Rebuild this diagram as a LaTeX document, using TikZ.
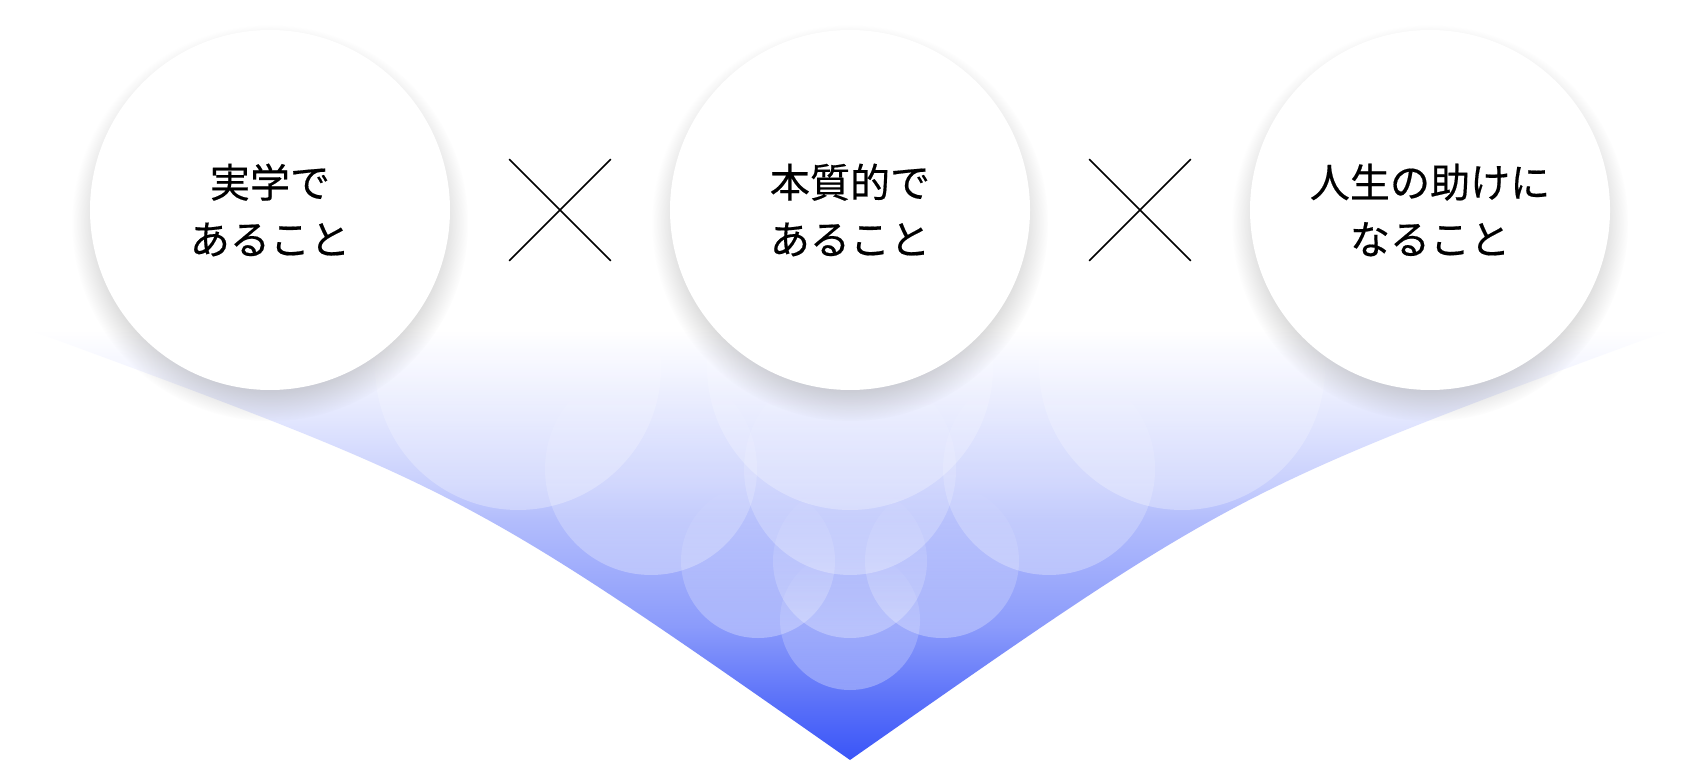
\documentclass[tikz,border=0pt]{standalone}
\usepackage{fontspec}
\newfontfamily\cjk[FakeBold=0.4]{Noto Sans CJK JP}
\usetikzlibrary{shadows,fadings,shapes.misc}
\definecolor{funnelblue}{HTML}{3A55F8}
\colorlet{funnelA}{funnelblue!84!white}
\colorlet{funnelB}{funnelblue!59!white}
\colorlet{funnelC}{funnelblue!39!white}
\colorlet{funnelD}{funnelblue!28!white}
\colorlet{funnelE}{funnelblue!15!white}
\colorlet{funnelF}{funnelblue!6!white}
\pgfdeclareverticalshading{funnelshade}{100bp}{color(0bp)=(funnelblue); color(25bp)=(funnelblue); color(31.6bp)=(funnelA); color(40.5bp)=(funnelB); color(52.9bp)=(funnelC); color(57.2bp)=(funnelD); color(64.5bp)=(funnelE); color(70.3bp)=(funnelF); color(75bp)=(white); color(100bp)=(white)}
\tikzfading[name=bubblefade, top color=transparent!100, bottom color=transparent!0]
\newcommand{\funnel}{(30,330) .. controls (466,491) .. (850,760) .. controls (1234,491) .. (1670,330) -- cycle}

\begin{document}
\begin{tikzpicture}[x=0.1mm,y=-0.1mm,
  circ/.style={circle,fill=white,minimum size=36mm,inner sep=0pt,align=center,
    font=\cjk\fontsize{11.4pt}{16.2pt}\selectfont,
    circular drop shadow={shadow scale=1.1,shadow xshift=0mm,shadow yshift=-1.2mm,opacity=0.4,fill=black!50,
      path fading={circle with fuzzy edge 20 percent}}},
  bubble/.style={fill=white,fill opacity=0.3,path fading=bubblefade},
  times/.style={draw,cross out,minimum size=10mm,inner sep=0pt,line width=0.45pt}]
\fill[white] (0,0) rectangle (1700,762);
\useasboundingbox (0,0) rectangle (1700,762);
%funnel
\shade[shading=funnelshade] \funnel;
\begin{scope}
\clip \funnel;
\foreach \x/\y/\r in {518/367/143, 850/367/143, 1182/367/143,
                      651/469/106, 850/469/106, 1049/469/106,
                      758/561/77, 850/561/77, 942/561/77, 850/620/70}
  \fill[bubble] (\x,\y) circle (\r);
\end{scope}
%circles
\node[circ] (jitsugaku) at (270,210) {実学で\\あること};
\node[times] (x1) at (560,210) {};
\node[circ] (honshitsu) at (850,210) {本質的で\\あること};
\node[times] (x2) at (1140,210) {};
\node[circ] (jinsei) at (1430,210) {人生の助けに\\なること};
\end{tikzpicture}
\end{document}
